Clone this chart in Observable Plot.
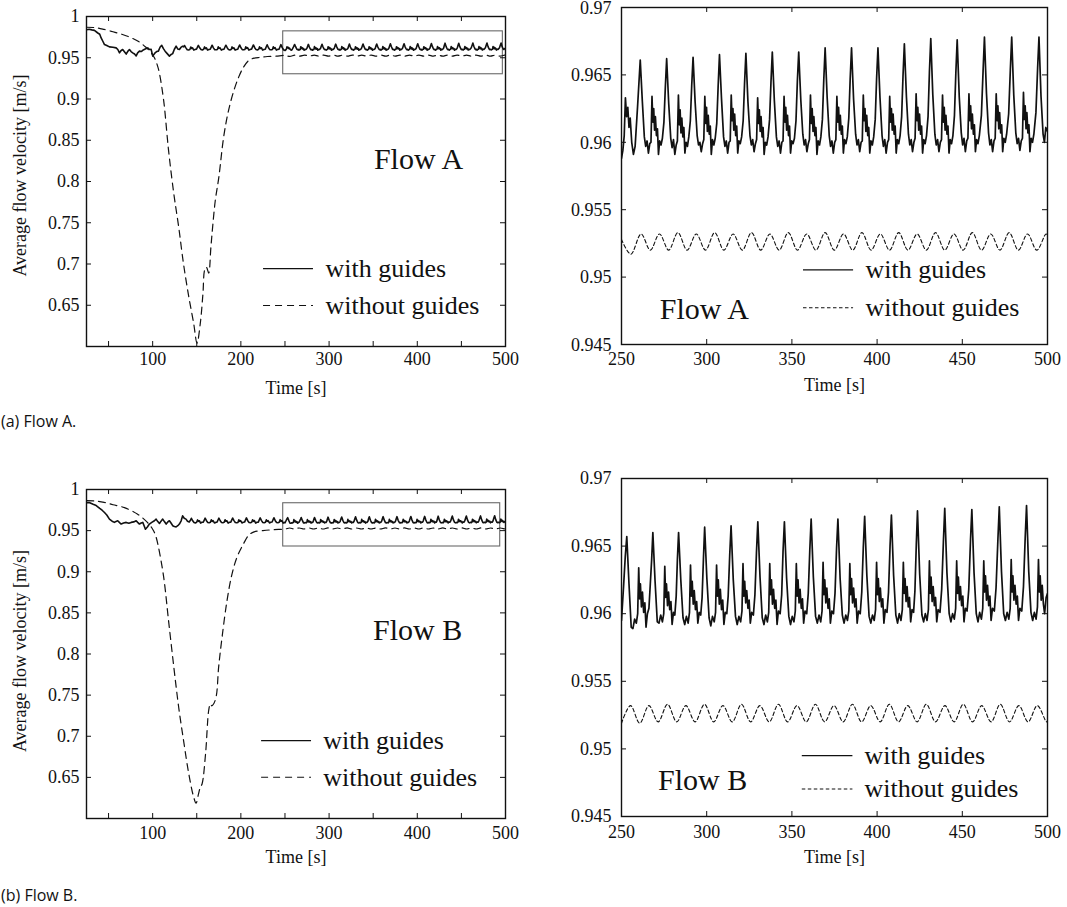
<!DOCTYPE html>
<html><head><meta charset="utf-8">
<script src="https://cdn.jsdelivr.net/npm/d3@7"></script>
<script src="https://cdn.jsdelivr.net/npm/@observablehq/plot@0.6"></script>
<style>
body{margin:0;background:#fff;}
#fig{position:relative;width:1067px;height:907px;background:#fff;overflow:hidden}
.panel{position:absolute}
.cap{position:absolute;font-family:"Open Sans",sans-serif;font-size:16px;line-height:22px;color:#111;white-space:nowrap}
</style></head><body><div id="fig"></div><script>
// ---------- data (time [s], velocity [m/s]) ----------
const aWith = [
[25,.9840],[28,.9845],[31,.9838],[34,.9832],[37.8,.9800],[40,.9785],[41.6,.9740],[43.5,.9700],[45.4,.9660],[48,.9648],[51,.9632],[55,.9628],[58.6,.9620],[60.5,.9600],[62.4,.9560],[64,.9585],[66,.9600],[68,.9572],[70,.9545],[72,.9580],[73.7,.9600],[75.5,.9575],[77.4,.9560],[79.5,.9545],[81.3,.9522],[83,.9560],[85,.9580],[87,.9575],[88.8,.9590],[91,.9602],[94.4,.9620],[96.5,.9600],[98.3,.9602],[100.1,.9520],[102.8,.9560],[104.5,.9575],[106.5,.9580],[108.5,.9630],[110.3,.9650],[112.2,.9610],[114.1,.9580],[116.5,.9550],[119,.9520],[121,.9540],[122.7,.9550],[124.5,.9600],[126.6,.9640],[128.5,.9605],[130.3,.9600],[132,.9625],[134,.9640],[135.2,.9632],
[136.2,.9648],[137.7,.9620],[139.2,.9598],[140.7,.9595],[142.2,.9601],[143.2,.9630],[144.2,.9612],[145.2,.9620],[146.7,.9592],[148.2,.9601],[149.7,.9603],[150.8,.9628],
[151.8,.9650],[153.3,.9621],[154.8,.9599],[156.3,.9594],[157.8,.9602],[158.8,.9631],[159.8,.9611],[160.8,.9621],[162.3,.9593],[163.8,.9600],[165.3,.9604],[166.4,.9629],
[167.4,.9652],[168.9,.9620],[170.4,.9598],[171.9,.9596],[173.4,.9601],[174.4,.9632],[175.4,.9613],[176.4,.9620],[177.9,.9592],[179.4,.9602],[180.9,.9603],[182,.9630],
[183,.9652],[184.5,.9622],[186,.9599],[187.5,.9595],[189,.9600],[190,.9631],[191,.9612],[192,.9621],[193.5,.9593],[195,.9601],[196.5,.9604],[197.6,.9631],
[198.6,.9655],[200.1,.9621],[201.6,.9598],[203.1,.9596],[204.6,.9601],[205.6,.9632],[206.6,.9613],[207.6,.9622],[209.1,.9592],[210.6,.9602],[212.1,.9603],[213.2,.9632],
[214.2,.9655],[215.7,.9622],[217.2,.9599],[218.7,.9595],[220.2,.9602],[221.2,.9632],[222.2,.9612],[223.2,.9621],[224.7,.9593],[226.2,.9601],[227.7,.9604],[228.8,.9633],
[229.8,.9657],[231.3,.9621],[232.8,.9598],[234.3,.9596],[235.8,.9601],[236.8,.9633],[237.8,.9613],[238.8,.9622],[240.3,.9592],[241.8,.9602],[243.3,.9603],[244.4,.9634],
[245.4,.9659],[246.9,.9622],[248.4,.9597],[249.3,.9590],
[250,.9588],[250.8,.9594],[251.6,.9605],[252.3,.9633],[253,.9619],[253.7,.9626],[254.4,.9611],[255.1,.9618],[256,.9600],[257,.9591],[258,.9597],[259.5,.9628],
[261,.9661],[262.2,.9631],[263.4,.9604],[264.2,.9597],[265,.9601],[265.8,.9592],[266.6,.9599],[267.3,.9600],[267.9,.9634],[268.4,.9615],[268.9,.9625],[269.4,.9609],[269.9,.9619],[270.5,.9605],[271.1,.9610],[271.7,.9591],[272.4,.9601],[273.2,.9598],[274,.9603],[274.9,.9615],[275.7,.9640],
[276.5,.9662],[277.7,.9629],[278.9,.9603],[279.7,.9596],[280.5,.9602],[281.3,.9591],[282.1,.9598],[282.8,.9601],[283.4,.9635],[283.9,.9613],[284.4,.9624],[284.9,.9607],[285.4,.9618],[286,.9604],[286.6,.9611],[287.2,.9592],[287.9,.9600],[288.7,.9597],[289.5,.9604],[290.4,.9616],[291.2,.9642],
[292,.9663],[293.2,.9630],[294.4,.9605],[295.2,.9598],[296,.9600],[296.8,.9593],[297.6,.9599],[298.3,.9602],[298.9,.9634],[299.4,.9614],[299.9,.9626],[300.4,.9608],[300.9,.9620],[301.5,.9606],[302.1,.9612],[302.7,.9591],[303.4,.9602],[304.2,.9598],[305,.9603],[305.9,.9614],[306.7,.9641],
[307.5,.9665],[308.7,.9632],[309.9,.9604],[310.7,.9597],[311.5,.9601],[312.3,.9592],[313.1,.9600],[313.8,.9601],[314.4,.9635],[314.9,.9616],[315.4,.9625],[315.9,.9609],[316.4,.9621],[317,.9605],[317.6,.9612],[318.2,.9592],[318.9,.9601],[319.7,.9599],[320.5,.9604],[321.4,.9616],[322.2,.9643],
[323,.9666],[324.2,.9630],[325.4,.9605],[326.2,.9598],[327,.9602],[327.8,.9593],[328.6,.9599],[329.3,.9602],[329.9,.9633],[330.4,.9614],[330.9,.9624],[331.4,.9608],[331.9,.9619],[332.5,.9604],[333.1,.9611],[333.7,.9591],[334.4,.9600],[335.2,.9598],[336,.9604],[336.9,.9617],[337.7,.9644],
[338.5,.9667],[339.7,.9631],[340.9,.9604],[341.7,.9597],[342.5,.9601],[343.3,.9592],[344.1,.9600],[344.8,.9601],[345.4,.9634],[345.9,.9615],[346.4,.9626],[346.9,.9609],[347.4,.9620],[348,.9605],[348.6,.9612],[349.2,.9592],[349.9,.9601],[350.7,.9599],[351.5,.9603],[352.4,.9616],[353.2,.9645],
[354,.9667],[355.2,.9632],[356.4,.9606],[357.2,.9598],[358,.9602],[358.8,.9593],[359.6,.9599],[360.3,.9602],[360.9,.9635],[361.4,.9614],[361.9,.9625],[362.4,.9608],[362.9,.9619],[363.5,.9605],[364.1,.9611],[364.7,.9591],[365.4,.9601],[366.2,.9598],[367,.9604],[367.9,.9617],[368.7,.9646],
[369.5,.9670],[370.7,.9633],[371.9,.9605],[372.7,.9597],[373.5,.9601],[374.3,.9592],[375.1,.9600],[375.8,.9602],[376.4,.9634],[376.9,.9615],[377.4,.9626],[377.9,.9609],[378.4,.9620],[379,.9606],[379.6,.9612],[380.2,.9592],[380.9,.9602],[381.7,.9599],[382.5,.9604],[383.4,.9618],[384.2,.9647],
[385,.9670],[386.2,.9632],[387.4,.9606],[388.2,.9598],[389,.9602],[389.8,.9593],[390.6,.9600],[391.3,.9601],[391.9,.9635],[392.4,.9616],[392.9,.9625],[393.4,.9608],[393.9,.9620],[394.5,.9605],[395.1,.9611],[395.7,.9592],[396.4,.9601],[397.2,.9598],[398,.9604],[398.9,.9617],[399.7,.9647],
[400.5,.9670],[401.7,.9633],[402.9,.9605],[403.7,.9597],[404.5,.9602],[405.3,.9592],[406.1,.9600],[406.8,.9602],[407.4,.9634],[407.9,.9615],[408.4,.9625],[408.9,.9609],[409.4,.9621],[410,.9606],[410.6,.9612],[411.2,.9592],[411.9,.9602],[412.7,.9599],[413.5,.9605],[414.4,.9619],[415.2,.9649],
[416,.9673],[417.2,.9634],[418.4,.9606],[419.2,.9598],[420,.9602],[420.8,.9593],[421.6,.9600],[422.3,.9603],[422.9,.9636],[423.4,.9616],[423.9,.9626],[424.4,.9609],[424.9,.9621],[425.5,.9606],[426.1,.9612],[426.7,.9592],[427.4,.9602],[428.2,.9599],[429,.9605],[429.9,.9619],[430.7,.9652],
[431.5,.9677],[432.7,.9635],[433.9,.9606],[434.7,.9598],[435.5,.9602],[436.3,.9593],[437.1,.9600],[437.8,.9602],[438.4,.9635],[438.9,.9615],[439.4,.9626],[439.9,.9609],[440.4,.9620],[441,.9606],[441.6,.9612],[442.2,.9592],[442.9,.9602],[443.7,.9599],[444.5,.9605],[445.4,.9620],[446.2,.9651],
[447,.9676],[448.2,.9634],[449.4,.9607],[450.2,.9598],[451,.9603],[451.8,.9593],[452.6,.9601],[453.3,.9603],[453.9,.9636],[454.4,.9616],[454.9,.9627],[455.4,.9610],[455.9,.9621],[456.5,.9606],[457.1,.9613],[457.7,.9593],[458.4,.9602],[459.2,.9599],[460,.9605],[461.2,.9620],[462.2,.9653],
[463,.9678],[464.2,.9636],[465.4,.9607],[466.2,.9598],[467,.9602],[467.8,.9593],[468.6,.9601],[469.3,.9603],[469.9,.9636],[470.4,.9616],[470.9,.9627],[471.4,.9610],[471.9,.9622],[472.5,.9607],[473.1,.9613],[473.7,.9593],[474.4,.9603],[475.2,.9600],[476,.9606],[477.2,.9621],[478.2,.9654],
[479,.9678],[480.2,.9635],[481.4,.9607],[482.2,.9599],[483,.9603],[483.8,.9594],[484.6,.9601],[485.3,.9603],[485.9,.9637],[486.4,.9617],[486.9,.9627],[487.4,.9610],[487.9,.9622],[488.5,.9607],[489.1,.9613],[489.7,.9593],[490.4,.9603],[491.2,.9600],[492,.9606],[493.2,.9622],[494.2,.9655],
[495,.9678],[496.2,.9634],[497.4,.9606],[498.2,.9600],[499,.9611],[500,.9608]
];
const aWithout = [
[25,.9870],[35,.9865],[45,.9843],[55,.9815],[65,.9785],[75,.9745],[85,.9690],[92,.9630],[98,.9565],[102,.9500],[105,.9420],[107.5,.9320],[112.5,.8980],[118,.8380],[124,.7850],[129.5,.7450],[135,.7000],[141,.6600],[146.5,.6280],[150.3,.6040],[154,.6280],[157,.6640],[159,.6930],[161,.6960],[163.5,.6890],[166,.7200],[168,.7450],[171,.7770],[175,.8050],[180.5,.8540],[186,.8860],[192,.9100],[197.5,.9265],[203,.9386],[209,.9467],[215,.9495],[222,.9505],[230,.9515],[240,.9520],
[250,.9528],[255.5,.9517],[261.5,.9532],[266.9,.9520],[272.3,.9532],[277.7,.9520],[283.1,.9533],[288.5,.9520],[293.9,.9532],[299.3,.9520],[304.7,.9533],[310.1,.9520],[315.5,.9532],[320.9,.9520],[326.3,.9533],[331.7,.9520],[337.1,.9532],[342.5,.9520],[347.9,.9533],[353.3,.9520],[358.7,.9532],[364.1,.9520],[369.5,.9533],[374.9,.9520],[380.3,.9532],[385.7,.9520],[391.1,.9533],[396.5,.9520],[401.9,.9532],[407.3,.9520],[412.7,.9533],[418.1,.9520],[423.5,.9532],[428.9,.9520],[434.3,.9533],[439.7,.9520],[445.1,.9532],[450.5,.9520],[455.9,.9533],[461.3,.9520],[466.7,.9532],[472.1,.9520],[477.5,.9533],[482.9,.9520],[488.3,.9532],[493.7,.9520],[499.1,.9532],[500,.9531]
];
const bWith = [
[25,.9840],[28,.9842],[32.5,.9820],[36,.9805],[40,.9770],[43,.9745],[45.4,.9720],[48,.9690],[51,.9640],[54,.9615],[56.7,.9600],[58.5,.9612],[60.4,.9620],[62.5,.9598],[64.3,.9580],[67,.9592],[70,.9600],[73,.9590],[75.6,.9600],[78.5,.9606],[81.3,.9620],[83,.9600],[85,.9580],[87,.9592],[88.8,.9600],[90.3,.9560],[91.8,.9517],[94,.9545],[96.3,.9580],[99,.9600],[102,.9620],[103.9,.9640],[105.8,.9610],[107.7,.9587],[109.5,.9615],[111.4,.9640],[113.3,.9610],[115.3,.9580],[117.2,.9605],[119,.9620],[121,.9590],[122.7,.9560],[124.6,.9550],[126.6,.9546],[128.5,.9560],[130.3,.9580],[132.3,.9620],[134,.9680],[135.8,.9650],[137.8,.9640],[139.5,.9615],[141.5,.9605],[142.8,.9628],
[143.9,.9650],[145.4,.9620],[146.9,.9598],[148.4,.9594],[149.9,.9601],[150.9,.9630],[151.9,.9612],[152.9,.9620],[154.4,.9592],[155.9,.9601],[157.4,.9603],[158.5,.9628],
[159.5,.9651],[161,.9621],[162.5,.9599],[164,.9595],[165.5,.9602],[166.5,.9631],[167.5,.9611],[168.5,.9621],[170,.9593],[171.5,.9600],[173,.9604],[174.1,.9629],
[175.1,.9652],[176.6,.9620],[178.1,.9598],[179.6,.9596],[181.1,.9601],[182.1,.9632],[183.1,.9613],[184.1,.9620],[185.6,.9592],[187.1,.9602],[188.6,.9603],[189.7,.9630],
[190.7,.9653],[192.2,.9622],[193.7,.9599],[195.2,.9595],[196.7,.9600],[197.7,.9631],[198.7,.9612],[199.7,.9621],[201.2,.9593],[202.7,.9601],[204.2,.9604],[205.3,.9631],
[206.3,.9655],[207.8,.9621],[209.3,.9598],[210.8,.9596],[212.3,.9601],[213.3,.9632],[214.3,.9613],[215.3,.9622],[216.8,.9592],[218.3,.9602],[219.8,.9603],[220.9,.9632],
[221.9,.9655],[223.4,.9622],[224.9,.9599],[226.4,.9595],[227.9,.9602],[228.9,.9632],[229.9,.9612],[230.9,.9621],[232.4,.9593],[233.9,.9601],[235.4,.9604],[236.5,.9633],
[237.5,.9657],[239,.9621],[240.5,.9598],[242,.9596],[243.5,.9601],[244.5,.9633],[245.5,.9613],[246.5,.9622],[248,.9592],[249.2,.9600],[250,.9595],[251.2,.9620],[252.2,.9642],
[253.1,.9657],[254.4,.9622],[255.7,.9590],[256.7,.9589],[257.7,.9596],[258.7,.9593],[259.5,.9600],[260.1,.9634],[260.6,.9611],[261.1,.9622],[261.7,.9605],[262.3,.9616],[263,.9601],[263.7,.9608],[264.4,.9590],[265.2,.9600],[266.1,.9604],[266.9,.9622],[267.7,.9640],
[268.4,.9660],[269.7,.9624],[271,.9594],[272,.9593],[273,.9599],[274,.9594],[274.8,.9600],[275.4,.9635],[275.9,.9612],[276.4,.9622],[277,.9606],[277.6,.9616],[278.3,.9603],[279,.9609],[279.7,.9592],[280.5,.9601],[281.3,.9599],[282.1,.9613],[282.8,.9640],
[283.5,.9660],[284.8,.9625],[286.1,.9597],[287.1,.9592],[288.1,.9598],[289.1,.9593],[289.9,.9601],[290.5,.9636],[291,.9613],[291.5,.9624],[292.1,.9607],[292.7,.9617],[293.4,.9603],[294.1,.9609],[294.8,.9593],[295.6,.9601],[296.5,.9599],[297.3,.9612],[298.1,.9641],
[298.8,.9664],[300.1,.9626],[301.4,.9597],[302.4,.9591],[303.4,.9598],[304.4,.9594],[305.2,.9601],[305.8,.9636],[306.3,.9613],[306.8,.9625],[307.4,.9607],[308,.9618],[308.7,.9603],[309.4,.9610],[310.1,.9592],[310.9,.9601],[311.8,.9600],[312.6,.9613],[313.5,.9643],
[314.3,.9665],[315.6,.9625],[316.9,.9598],[317.9,.9592],[318.9,.9598],[319.9,.9594],[320.7,.9602],[321.3,.9637],[321.8,.9613],[322.3,.9624],[322.9,.9608],[323.5,.9617],[324.2,.9604],[324.9,.9610],[325.6,.9593],[326.4,.9601],[327.4,.9599],[328.3,.9614],[329.2,.9645],
[330,.9668],[331.3,.9627],[332.6,.9597],[333.6,.9592],[334.6,.9599],[335.6,.9594],[336.4,.9601],[337,.9637],[337.5,.9614],[338,.9625],[338.6,.9607],[339.2,.9618],[339.9,.9604],[340.6,.9610],[341.3,.9592],[342.1,.9602],[343.1,.9600],[344,.9614],[344.8,.9646],
[345.6,.9668],[346.9,.9626],[348.2,.9598],[349.2,.9592],[350.2,.9598],[351.2,.9594],[352,.9602],[352.6,.9637],[353.1,.9613],[353.6,.9625],[354.2,.9608],[354.8,.9618],[355.5,.9604],[356.2,.9611],[356.9,.9593],[357.7,.9602],[358.7,.9600],[359.6,.9615],[360.5,.9647],
[361.3,.9670],[362.6,.9627],[363.9,.9598],[364.9,.9593],[365.9,.9599],[366.9,.9594],[367.7,.9602],[368.3,.9638],[368.8,.9614],[369.3,.9625],[369.9,.9608],[370.5,.9619],[371.2,.9604],[371.9,.9611],[372.6,.9593],[373.4,.9602],[374.4,.9600],[375.3,.9615],[376.2,.9648],
[377,.9670],[378.3,.9626],[379.6,.9599],[380.6,.9593],[381.6,.9599],[382.6,.9595],[383.4,.9602],[384,.9637],[384.5,.9614],[385,.9626],[385.6,.9608],[386.2,.9619],[386.9,.9605],[387.6,.9611],[388.3,.9593],[389.1,.9602],[390.1,.9600],[391,.9616],[391.9,.9649],
[392.7,.9672],[394,.9628],[395.3,.9598],[396.3,.9593],[397.3,.9599],[398.3,.9595],[399.1,.9603],[399.7,.9638],[400.2,.9614],[400.7,.9626],[401.3,.9609],[401.9,.9619],[402.6,.9605],[403.3,.9611],[404,.9593],[404.8,.9603],[405.8,.9601],[406.7,.9616],[407.6,.9650],
[408.4,.9673],[409.7,.9628],[411,.9599],[412,.9593],[413,.9600],[414,.9595],[414.8,.9603],[415.4,.9638],[415.9,.9615],[416.4,.9626],[417,.9609],[417.6,.9620],[418.3,.9605],[419,.9612],[419.7,.9594],[420.5,.9603],[421.4,.9601],[422.2,.9617],[423,.9651],
[423.7,.9676],[425,.9629],[426.3,.9599],[427.3,.9594],[428.3,.9600],[429.3,.9595],[430.1,.9603],[430.7,.9639],[431.2,.9615],[431.7,.9627],[432.3,.9609],[432.9,.9620],[433.6,.9606],[434.3,.9612],[435,.9594],[435.8,.9603],[436.9,.9601],[437.9,.9618],[438.9,.9653],
[439.7,.9678],[441,.9630],[442.3,.9600],[443.3,.9594],[444.3,.9600],[445.3,.9596],[446.1,.9604],[446.7,.9639],[447.2,.9615],[447.7,.9627],[448.3,.9610],[448.9,.9620],[449.6,.9606],[450.3,.9613],[451,.9594],[451.8,.9604],[452.8,.9602],[453.8,.9618],[454.8,.9654],
[455.6,.9677],[456.9,.9630],[458.2,.9600],[459.2,.9594],[460.2,.9601],[461.2,.9596],[462,.9604],[462.6,.9639],[463.1,.9616],[463.6,.9628],[464.2,.9610],[464.8,.9621],[465.5,.9606],[466.2,.9613],[466.9,.9595],[467.7,.9604],[468.8,.9602],[469.8,.9619],[470.9,.9655],
[471.7,.9679],[473,.9631],[474.3,.9600],[475.3,.9595],[476.3,.9601],[477.3,.9596],[478.1,.9604],[478.7,.9640],[479.2,.9616],[479.7,.9628],[480.3,.9610],[480.9,.9621],[481.6,.9607],[482.3,.9613],[483,.9595],[483.8,.9604],[484.9,.9602],[485.9,.9620],[486.9,.9656],
[487.7,.9680],[489,.9631],[490.3,.9601],[491.3,.9595],[492.3,.9601],[493.3,.9596],[494.1,.9605],[494.7,.9640],[495.2,.9616],[495.7,.9628],[496.3,.9610],[496.9,.9621],[497.6,.9607],[498.3,.9600],[499.2,.9612],[500,.9615]
];
const bWithout = [
[25,.9865],[35,.9860],[45,.9843],[55,.9815],[68,.9780],[83,.9700],[94,.9600],[100,.9517],[103,.9450],[106,.9330],[112.5,.8934],[118,.8407],[124,.7840],[129.5,.7353],[135,.6950],[141,.6540],[146.5,.6260],[149.2,.6186],[152,.6300],[154,.6380],[156,.6420],[160,.6790],[163.5,.7313],[165.4,.7395],[167,.7370],[169.2,.7395],[172.2,.7495],[174.8,.7840],[178.7,.8205],[184.3,.8650],[190,.8975],[195.6,.9177],[203,.9340],[209,.9445],[215,.9485],[225,.9500],[237,.9512],
[250,.9519],[255.3,.9532],[260.7,.9519],[266.1,.9532],[271.5,.9520],[277.0,.9533],[282.4,.9520],[287.8,.9532],[293.2,.9520],[298.7,.9533],[304.1,.9520],[309.5,.9532],[315.0,.9520],[320.4,.9533],[325.8,.9520],[331.2,.9532],[336.7,.9520],[342.1,.9533],[347.5,.9520],[353.0,.9532],[358.4,.9520],[363.8,.9533],[369.2,.9520],[374.7,.9532],[380.1,.9520],[385.5,.9533],[390.9,.9520],[396.3,.9532],[401.8,.9520],[407.2,.9533],[412.6,.9520],[418.0,.9532],[423.5,.9520],[428.9,.9533],[434.3,.9520],[439.8,.9532],[445.2,.9520],[450.6,.9533],[456.0,.9520],[461.4,.9532],[466.9,.9520],[472.3,.9533],[477.7,.9520],[483.2,.9532],[488.6,.9520],[494.0,.9532],[499.4,.9520],[500,.9521]
];
// zoomed window drawn on the full-range panels
const zoomBoxA = [{x1: 248, x2: 497, y1: 0.930, y2: 0.982}];
const zoomBoxB = [{x1: 248, x2: 494, y1: 0.9307, y2: 0.9833}];
// ticks
const fullXTicks = [50,100,150,200,250,300,350,400,450,500];
const fullXLabels = [100,200,300,400,500];
const fullYTicks = [0.6,0.65,0.7,0.75,0.8,0.85,0.9,0.95,1];
const fullYLabels = [0.65,0.7,0.75,0.8,0.85,0.9,0.95,1];
const zoomXTicks = [250,300,350,400,450,500];
const zoomYTicks = [0.945,0.95,0.955,0.96,0.965,0.97];
const seriesNames = ["with guides", "without guides"];
const flowNames = ["Flow A", "Flow B"];
const captions = ["(a) Flow A.", "(b) Flow B."];
const xTitle = "Time [s]";
const yTitle = "Average flow velocity [m/s]";

// ---------- rendering ----------
const SERIF = "Liberation Serif";
const INK = "#111";
const toObj = arr => arr.map(([t, v]) => ({t, v}));
const fmt = d => String(+d.toFixed(4));

function panel(c) {
  const iw = c.width - c.ml - c.mr, ih = c.height - c.mt - c.mb;
  const withD = toObj(c.with).filter(d => d.t >= c.xDomain[0]);
  const withoutD = toObj(c.without).filter(d => d.t >= c.xDomain[0] - 6);
  const T = {fontFamily: SERIF, fill: INK};
  const marks = [];
  if (c.box) marks.push(Plot.rect(c.box, {x1: "x1", x2: "x2", y1: "y1", y2: "y2", fill: "none", stroke: "#6a6a6a", strokeWidth: 1.1}));
  marks.push(Plot.line(withoutD, {x: "t", y: "v", stroke: INK, strokeWidth: c.dashW, strokeDasharray: c.dash, curve: "catmull-rom", clip: true}));
  marks.push(Plot.line(withD, {x: "t", y: "v", stroke: INK, strokeWidth: c.lw, clip: true}));
  // MATLAB-style inward ticks on all four sides
  marks.push(Plot.tickX(c.xTicks, {x: d => d, insetBottom: ih - 5, stroke: INK}));
  marks.push(Plot.tickX(c.xTicks, {x: d => d, insetTop: ih - 5, stroke: INK}));
  marks.push(Plot.tickY(c.yTicks, {y: d => d, insetRight: iw - 5, stroke: INK}));
  marks.push(Plot.tickY(c.yTicks, {y: d => d, insetLeft: iw - 5, stroke: INK}));
  marks.push(Plot.frame({stroke: INK, strokeWidth: 1.4}));
  // tick labels (serif, as text marks positioned through the scales)
  marks.push(Plot.text(c.xLabels, {x: d => d, frameAnchor: "bottom", dy: c.xpad, text: d => String(d), textAnchor: "middle", lineAnchor: "middle", fontSize: 18, ...T}));
  marks.push(Plot.text(c.yLabels, {y: d => d, frameAnchor: "left", dx: -c.ypad, dy: c.ydy || 0, text: fmt, textAnchor: "end", lineAnchor: "middle", fontSize: 18, ...T}));
  marks.push(Plot.text([xTitle], {frameAnchor: "bottom", dy: c.xTitleDy, textAnchor: "middle", fontSize: 18, ...T}));
  if (c.yTitle) marks.push(Plot.text([yTitle], {frameAnchor: "left", rotate: -90, textAnchor: "middle", dx: -66, dy: c.yTitleDy, fontSize: 18, ...T}));
  // legend
  const L = c.legend;
  marks.push(Plot.ruleY([L.y1], {x1: L.x1, x2: L.x2, stroke: INK, strokeWidth: 1.2}));
  marks.push(Plot.ruleY([L.y2], {x1: L.x1, x2: L.x2, stroke: INK, strokeWidth: 1.1, strokeDasharray: c.dash}));
  marks.push(Plot.text([seriesNames[0]], {x: L.tx, y: L.y1, textAnchor: "start", fontSize: 26, ...T}));
  marks.push(Plot.text([seriesNames[1]], {x: L.tx, y: L.y2, textAnchor: "start", fontSize: 26, ...T}));
  marks.push(Plot.text([c.flow], {x: c.flowX, y: c.flowY, textAnchor: "middle", fontSize: 30, ...T}));
  const svg = Plot.plot({
    width: c.width, height: c.height,
    marginLeft: c.ml, marginRight: c.mr, marginTop: c.mt, marginBottom: c.mb,
    x: {domain: c.xDomain, axis: null},
    y: {domain: c.yDomain, axis: null},
    style: {fontFamily: SERIF, fontSize: "18px", color: INK, background: "white", overflow: "visible"},
    marks
  });
  const div = document.createElement("div");
  div.className = "panel";
  div.style.left = c.left + "px";
  div.style.top = c.top + "px";
  div.appendChild(svg);
  document.getElementById("fig").appendChild(div);
}

panel({
  left: 0, top: 0, width: 520, height: 410, ml: 86, mr: 15, mt: 16, mb: 64,
  xDomain: [25, 500], yDomain: [0.6, 1], xTicks: fullXTicks, xLabels: fullXLabels,
  yTicks: fullYTicks, yLabels: fullYLabels, xpad: 13, ypad: 7, xTitleDy: 47, yTitle: true, yTitleDy: -6,
  with: aWith, without: aWithout, box: zoomBoxA, lw: 1.6, dashW: 1.2, dash: "7,5",
  legend: {x1: 225.7, x2: 282.3, tx: 295.9, y1: 0.6945, y2: 0.6497},
  flow: flowNames[0], flowX: 401.4, flowY: 0.8274
});
panel({
  left: 540, top: 0, width: 527, height: 410, ml: 81, mr: 20, mt: 7, mb: 66,
  xDomain: [250, 500], yDomain: [0.945, 0.97], xTicks: zoomXTicks, xLabels: zoomXTicks,
  yTicks: zoomYTicks, yLabels: zoomYTicks, xpad: 15, ypad: 10, ydy: 0.5, xTitleDy: 46, yTitle: false,
  with: aWith, without: aWithout, box: null, lw: 1.7, dashW: 1.1, dash: "3.5,2.5",
  legend: {x1: 356.8, x2: 386.2, tx: 393.2, y1: 0.95053, y2: 0.94773},
  flow: flowNames[0], flowX: 298.6, flowY: 0.94764
});
panel({
  left: 0, top: 440, width: 520, height: 440, ml: 86, mr: 15, mt: 49, mb: 62,
  xDomain: [25, 500], yDomain: [0.6, 1], xTicks: fullXTicks, xLabels: fullXLabels,
  yTicks: fullYTicks, yLabels: fullYLabels, xpad: 15, ypad: 7, xTitleDy: 44, yTitle: true, yTitleDy: -3,
  with: bWith, without: bWithout, box: zoomBoxB, lw: 1.6, dashW: 1.2, dash: "7,5",
  legend: {x1: 223.5, x2: 280.1, tx: 293.4, y1: 0.6948, y2: 0.6502},
  flow: flowNames[1], flowX: 400.3, flowY: 0.8281
});
panel({
  left: 540, top: 440, width: 527, height: 440, ml: 81, mr: 20, mt: 38, mb: 64,
  xDomain: [250, 500], yDomain: [0.945, 0.97], xTicks: zoomXTicks, xLabels: zoomXTicks,
  yTicks: zoomYTicks, yLabels: zoomYTicks, xpad: 16, ypad: 10, xTitleDy: 46, yTitle: false,
  with: bWith, without: bWithout, box: null, lw: 1.7, dashW: 1.1, dash: "3.5,2.5",
  legend: {x1: 356.1, x2: 385.8, tx: 392.6, y1: 0.9495, y2: 0.94703},
  flow: flowNames[1], flowX: 297.6, flowY: 0.94767
});

const fig = document.getElementById("fig");
[[captions[0], 410], [captions[1], 884]].forEach(([txt, top]) => {
  const d = document.createElement("div");
  d.className = "cap";
  d.style.left = "1px";
  d.style.top = top + "px";
  d.textContent = txt;
  fig.appendChild(d);
});
</script></body></html>
